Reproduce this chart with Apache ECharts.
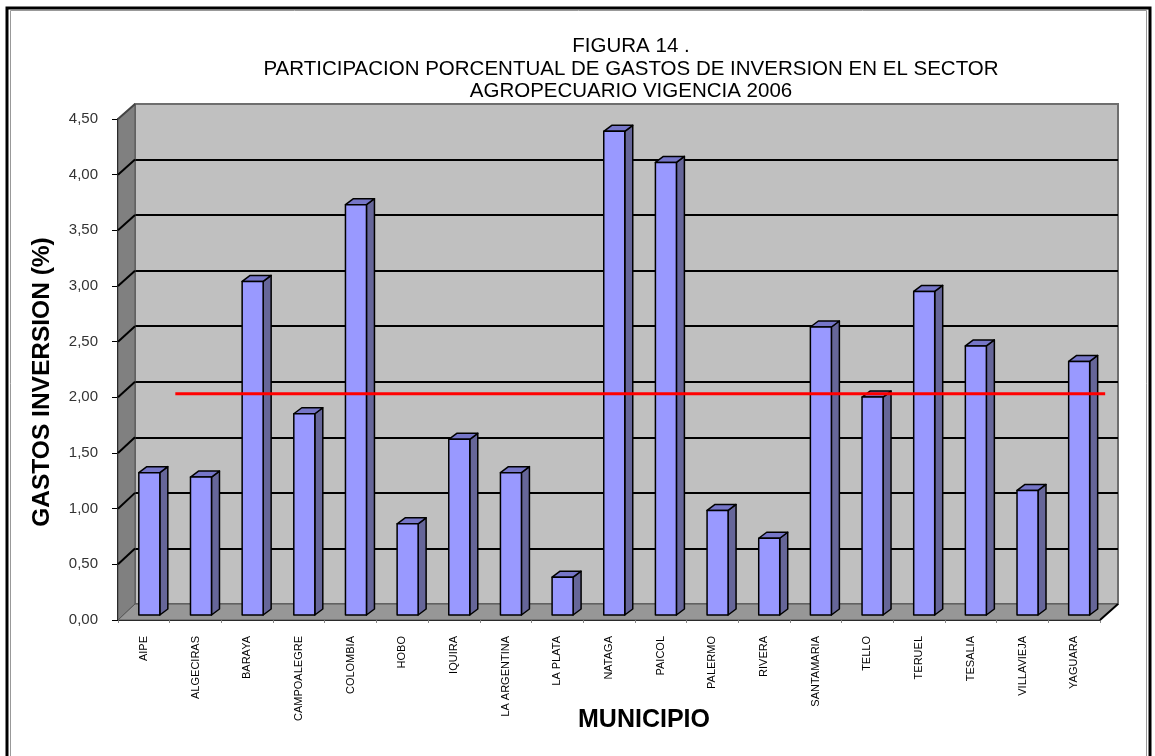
<!DOCTYPE html>
<html><head><meta charset="utf-8">
<script src="https://cdn.jsdelivr.net/npm/echarts@6/dist/echarts.min.js"></script>
<style>html,body{margin:0;padding:0;background:#fff}#c{width:1155px;height:756px}</style>
</head><body><div id="c"></div>
<script>
const categorias = ['AIPE','ALGECIRAS','BARAYA','CAMPOALEGRE','COLOMBIA','HOBO','IQUIRA','LA ARGENTINA','LA PLATA','NATAGA','PAICOL','PALERMO','RIVERA','SANTAMARIA','TELLO','TERUEL','TESALIA','VILLAVIEJA','YAGUARA'];
const gastos = [1.28,1.24,3.00,1.81,3.69,0.82,1.58,1.28,0.34,4.35,4.07,0.94,0.69,2.59,1.96,2.91,2.42,1.12,2.28];
const promedio = [1.99,1.99,1.99,1.99,1.99,1.99,1.99,1.99,1.99,1.99,1.99,1.99,1.99,1.99,1.99,1.99,1.99,1.99,1.99];
const titulo = ['FIGURA 14 .','PARTICIPACION PORCENTUAL DE GASTOS DE INVERSION EN EL SECTOR','AGROPECUARIO VIGENCIA 2006'];
const ejeY = 'GASTOS INVERSION (%)';
const ejeX = 'MUNICIPIO';

const FONT = '"Liberation Sans", Arial, sans-serif';
const chart = echarts.init(document.getElementById('c'), null, {renderer: 'canvas'});

// layout (3D box emulation)
const BACK = {l: 135, t: 104, r: 1118, b: 604};
const FRONT = {l: 118, t: 119, r: 1100, b: 620};

function renderBar(params, api) {
  const i = api.value(0), v = api.value(1);
  const top = api.coord([i, v]);
  const base = api.coord([i, 0]);
  const w = 21, dx = 8, dy = 6;
  const xl = top[0] - w / 2, xr = top[0] + w / 2, yt = top[1], yb = base[1];
  const st = (fill) => ({fill: fill, stroke: '#000', lineWidth: 1.5, lineJoin: 'round'});
  return {type: 'group', children: [
    {type: 'polygon', shape: {points: [[xr, yt], [xr + dx, yt - dy], [xr + dx, yb - dy], [xr, yb]]}, style: st('#666699')},
    {type: 'polygon', shape: {points: [[xl, yt], [xl + dx, yt - dy], [xr + dx, yt - dy], [xr, yt]]}, style: st('#7676c8')},
    {type: 'rect', shape: {x: xl, y: yt, width: w, height: yb - yt}, style: st('#9999ff')}
  ]};
}

const hiddenCat = (g) => ({type: 'category', gridIndex: g, data: categorias, show: false, boundaryGap: true});
const hiddenVal = (g) => ({type: 'value', gridIndex: g, min: 0, max: 4.5, interval: 0.5, show: false});

const option = {
  backgroundColor: '#fff',
  animation: false,
  grid: [
    {left: BACK.l, right: 1155 - BACK.r, top: BACK.t, bottom: 756 - BACK.b, show: true, backgroundColor: '#c0c0c0', borderColor: '#6e6e6e', borderWidth: 2},
    {left: 123.5, right: 50, top: 114.6, bottom: 141},
    {left: 149.5, right: 24, top: 114.6, bottom: 141},
    {left: FRONT.l, right: 1155 - FRONT.r, top: FRONT.t, bottom: 756 - FRONT.b}
  ],
  xAxis: [
    hiddenCat(0), hiddenCat(1), hiddenCat(2),
    {type: 'category', gridIndex: 3, data: categorias, boundaryGap: true,
     axisLine: {lineStyle: {color: '#000', width: 2}},
     axisTick: {show: true, length: 3, lineStyle: {color: '#888'}},
     axisLabel: {interval: 0, rotate: 90, fontSize: 11, fontFamily: FONT, color: '#000', margin: 16}}
  ],
  yAxis: [
    {type: 'value', gridIndex: 0, min: 0, max: 4.5, interval: 0.5,
     axisLine: {show: false}, axisTick: {show: false}, axisLabel: {show: false},
     splitLine: {show: true, showMinLine: false, showMaxLine: false, lineStyle: {color: '#000', width: 2}}},
    hiddenVal(1), hiddenVal(2),
    {type: 'value', gridIndex: 3, min: 0, max: 4.5, interval: 0.5,
     axisLine: {show: true, lineStyle: {color: '#000', width: 2}},
     axisTick: {show: true, length: 6, lineStyle: {color: '#000', width: 1}},
     splitLine: {show: false},
     axisLabel: {fontSize: 15, fontFamily: FONT, color: '#333', margin: 20,
       formatter: (v) => v.toFixed(2).replace('.', ',')}}
  ],
  series: [
    {type: 'custom', xAxisIndex: 1, yAxisIndex: 1, renderItem: renderBar, z: 3,
     encode: {x: 0, y: 1}, data: gastos.map((v, i) => [i, v])},
    {type: 'line', xAxisIndex: 2, yAxisIndex: 2, data: promedio, symbol: 'none', z: 5,
     lineStyle: {color: '#ff0000', width: 3}}
  ]
};
chart.setOption(option);

// decorations: walls, floor, diagonal grid lines, frame, titles
const g = [];
g.push({type: 'rect', z: 0, shape: {x: 7, y: 8, width: 1143, height: 760}, style: {fill: null, stroke: '#000', lineWidth: 3}});
g.push({type: 'rect', z: 0, shape: {x: 10.5, y: 10.5, width: 1136, height: 760}, style: {fill: null, stroke: '#999', lineWidth: 1}});
g.push({type: 'polygon', z: 1, shape: {points: [[FRONT.l, FRONT.t], [BACK.l, BACK.t], [BACK.l, BACK.b], [FRONT.l, FRONT.b]]}, style: {fill: '#808080', stroke: '#555', lineWidth: 1}});
g.push({type: 'polygon', z: 1, shape: {points: [[FRONT.l, FRONT.b], [BACK.l, BACK.b], [BACK.r, BACK.b], [FRONT.r, FRONT.b]]}, style: {fill: '#979797', stroke: '#555', lineWidth: 1}});
g.push({type: 'line', z: 2, shape: {x1: FRONT.r, y1: FRONT.b, x2: BACK.r, y2: BACK.b}, style: {stroke: '#000', lineWidth: 2}});
for (let v = 0.5; v < 4.5; v += 0.5) {
  const yf = chart.convertToPixel({yAxisIndex: 3}, v);
  const yb = chart.convertToPixel({yAxisIndex: 0}, v);
  g.push({type: 'line', z: 2, shape: {x1: FRONT.l, y1: yf, x2: BACK.l, y2: yb}, style: {stroke: '#000', lineWidth: 2}});
}
const yTop = chart.convertToPixel({yAxisIndex: 3}, 4.5);
g.push({type: 'line', z: 2, shape: {x1: FRONT.l, y1: yTop, x2: BACK.l, y2: BACK.t}, style: {stroke: '#444', lineWidth: 2}});

const titleY = [46, 69, 91];
titulo.forEach((t, k) => g.push({type: 'text', z: 10, x: 631, y: titleY[k],
  style: {text: t, font: '20.5px ' + FONT, fill: '#000', align: 'center', verticalAlign: 'middle'}}));
g.push({type: 'text', z: 10, x: 42, y: 382, rotation: Math.PI / 2,
  style: {text: ejeY, font: 'bold 24.5px ' + FONT, fill: '#000', align: 'center', verticalAlign: 'middle'}});
g.push({type: 'text', z: 10, x: 644, y: 720,
  style: {text: ejeX, font: 'bold 25px ' + FONT, fill: '#000', align: 'center', verticalAlign: 'middle'}});

chart.setOption({graphic: {elements: g}});
</script>
</body></html>
